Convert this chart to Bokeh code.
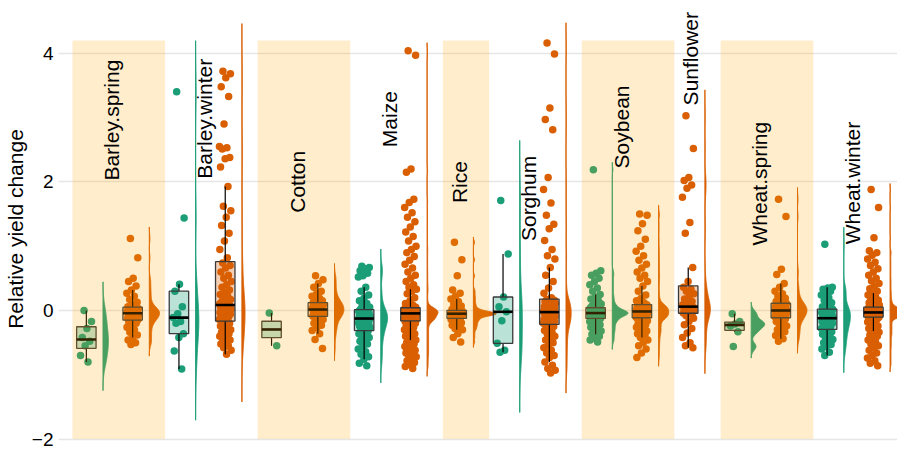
import numpy as np
from bokeh.plotting import figure
from bokeh.models import Range1d, FixedTicker
from bokeh.core.properties import value
from bokeh.embed import file_html
from bokeh.resources import INLINE

# ---------------- data ----------------
crops = ["Barley.spring", "Barley.winter", "Cotton", "Maize", "Rice",
         "Sorghum", "Soybean", "Sunflower", "Wheat.spring", "Wheat.winter"]
label_y = [2.02, 2.05, 1.52, 2.54, 1.67, 1.08, 2.21, 3.19, 1.01, 1.03]
y_ticks = [-2, 0, 2, 4]
y_tick_labels = ["\u22122", "0", "2", "4"]
y_title = "Relative yield change"

barley_spring_g = [0.0, -0.17, -0.28, -0.42, -0.48, -0.55, -0.7, -0.8]
barley_spring_o = [1.12, 0.82, 0.5, 0.45, 0.38, 0.32, 0.27, 0.22, 0.17, 0.13, 0.09, 0.06,
                   0.05, 0.04, 0.03, 0.02, 0.01, 0.0, -0.01, -0.015, -0.02, -0.03, -0.035, -0.04,
                   -0.045, -0.05, -0.06, -0.07, -0.08, -0.09, -0.1, -0.11, -0.12, -0.13, -0.14, -0.145,
                   -0.16, -0.18, -0.2, -0.23, -0.26, -0.3, -0.34, -0.38, -0.42, -0.46, -0.5, -0.53]
barley_winter_g = [3.40, 1.44, 0.41, 0.30, 0.06, -0.05, -0.11, -0.17, -0.20, -0.36, -0.42, -0.63, -0.91]
barley_winter_o = [3.72, 3.68, 3.62, 3.48, 3.33, 2.9, 2.55, 2.53, 2.51, 2.38, 2.36, 2.23,
                   1.93, 1.62, 1.55, 1.45, 1.32, 1.2, 1.08, 0.95, 0.82,
                   0.74, 0.7, 0.66, 0.6, 0.55, 0.5, 0.45, 0.4, 0.36, 0.32, 0.28, 0.25, 0.22, 0.19,
                   0.17, 0.15, 0.13, 0.12, 0.11, 0.1, 0.09,
                   0.08, 0.07, 0.06, 0.05, 0.04, 0.03, 0.02, 0.01, 0.0, -0.01, -0.02, -0.03, -0.04,
                   -0.05, -0.06, -0.08, -0.09, -0.1, -0.12, -0.14, -0.16,
                   -0.18, -0.2, -0.22, -0.24, -0.26, -0.28, -0.3, -0.32, -0.34, -0.36, -0.38, -0.4,
                   -0.42, -0.44, -0.46, -0.5, -0.52, -0.55, -0.58, -0.62, -0.68]
cotton_g = [-0.04, -0.55]
cotton_o = [0.54, 0.48, 0.42, 0.36, 0.3, 0.26, 0.22, 0.19, 0.17, 0.15, 0.13,
            0.12, 0.11, 0.1, 0.09, 0.08, 0.07, 0.06, 0.05, 0.04, 0.03, 0.02,
            0.01, 0.0, -0.01, -0.02, -0.03, -0.04, -0.05, -0.06, -0.07, -0.08, -0.09,
            -0.1, -0.12, -0.14, -0.17, -0.2, -0.23, -0.27, -0.31, -0.36, -0.45, -0.59]
maize_g = [0.69, 0.67, 0.65, 0.62, 0.58, 0.54, 0.52, 0.36, 0.3, 0.24, 0.19, 0.15, 0.11, 0.08, 0.05, 0.03, 0.02,
           0.01, 0.0, -0.01, -0.02, -0.03, -0.04, -0.05, -0.06, -0.07, -0.08, -0.09, -0.09, -0.1, -0.1,
           -0.11, -0.11, -0.12,
           -0.13, -0.14, -0.15, -0.16, -0.17, -0.18, -0.19, -0.2, -0.21, -0.22, -0.23, -0.24, -0.25,
           -0.26, -0.27, -0.29, -0.31,
           -0.32, -0.34, -0.36, -0.38, -0.4, -0.42, -0.45, -0.48, -0.52, -0.56, -0.6, -0.64, -0.68,
           -0.72, -0.76, -0.82, -0.86]
maize_o = [4.04, 3.97, 2.2, 2.15, 1.73, 1.68, 1.6, 1.52, 1.45, 1.38, 1.3, 1.22, 1.15, 1.08, 1.0, 0.95,
           0.9, 0.84, 0.78, 0.72, 0.66, 0.6, 0.55, 0.5, 0.45, 0.4, 0.36, 0.33, 0.3, 0.26, 0.2, 0.15,
           0.11, 0.08, 0.06, 0.05,
           0.04, 0.04, 0.04, 0.03, 0.03, 0.03, 0.02, 0.02, 0.02, 0.02, 0.01, 0.01, 0.01, 0.01, 0.0,
           0.0, 0.0, 0.0, -0.01, -0.01, -0.01, -0.01, -0.02, -0.02, -0.02, -0.02, -0.03, -0.03, -0.03,
           -0.03, -0.03, -0.04, -0.04, -0.04, -0.04, -0.04,
           -0.05, -0.05, -0.05, -0.06, -0.06, -0.06, -0.07, -0.07, -0.07, -0.08, -0.08, -0.08, -0.09,
           -0.09, -0.09, -0.1, -0.1, -0.1, -0.11, -0.11, -0.11, -0.12, -0.12, -0.12, -0.13, -0.13,
           -0.13, -0.14, -0.14, -0.14, -0.15, -0.15, -0.15, -0.16, -0.16, -0.16,
           -0.17, -0.18, -0.19, -0.2, -0.22, -0.24, -0.26, -0.28, -0.3, -0.32, -0.34, -0.36, -0.38,
           -0.4, -0.42, -0.44, -0.46, -0.48, -0.5, -0.52, -0.54, -0.56, -0.58, -0.6, -0.62, -0.64,
           -0.66, -0.68, -0.7, -0.72, -0.75, -0.78, -0.81, -0.84, -0.87, -0.9]
rice_o = [1.06, 0.79, 0.54, 0.32, 0.27, 0.22, 0.18, 0.14, 0.1, 0.07, 0.04, 0.02, 0.01,
          0.0, -0.01, -0.02, -0.025, -0.03, -0.035, -0.04, -0.04, -0.045, -0.045, -0.05, -0.05, -0.05,
          -0.05, -0.055, -0.055, -0.06, -0.06, -0.065, -0.07, -0.07, -0.075, -0.08, -0.09, -0.1, -0.12,
          -0.13, -0.14, -0.15, -0.17, -0.19, -0.21, -0.23, -0.25, -0.28, -0.3, -0.36, -0.42, -0.49]
sorghum_g = [1.71, 0.88, 0.21, 0.06, -0.02, -0.16, -0.51, -0.62, -0.65]
sorghum_o = [4.16, 3.99, 3.15, 2.97, 2.81, 2.07, 1.88, 1.67, 1.48, 1.34, 1.27, 1.09, 0.95, 0.85,
             0.8, 0.67, 0.55, 0.45, 0.35, 0.27, 0.2,
             0.17, 0.16, 0.15, 0.14, 0.13, 0.12, 0.11, 0.1, 0.09, 0.08, 0.07, 0.06, 0.05, 0.04,
             0.03, 0.02, 0.01, 0.01, 0.0, -0.01, -0.02,
             -0.03, -0.04, -0.05, -0.06, -0.07, -0.08, -0.09, -0.1, -0.11, -0.12, -0.13, -0.14,
             -0.15, -0.16, -0.17, -0.18, -0.18, -0.19, -0.2, -0.2, -0.21,
             -0.23, -0.25, -0.28, -0.31, -0.34, -0.37, -0.4, -0.43, -0.46, -0.5, -0.54, -0.58,
             -0.62, -0.66, -0.7, -0.73, -0.8, -0.85, -0.9, -0.93, -0.97]
soybean_g = [2.19, 0.62, 0.58, 0.55, 0.5, 0.45, 0.4, 0.35, 0.3, 0.25, 0.21, 0.18, 0.15, 0.12, 0.1,
             0.08, 0.07, 0.06, 0.05,
             0.04, 0.03, 0.02, 0.01, 0.01, 0.0, 0.0, -0.01, -0.01, -0.02, -0.02, -0.02, -0.03,
             -0.03, -0.03, -0.035, -0.035, -0.04, -0.04,
             -0.04, -0.045, -0.045, -0.05, -0.05, -0.05, -0.055, -0.06, -0.06, -0.065, -0.07, -0.07,
             -0.08, -0.08, -0.09, -0.1, -0.11, -0.12, -0.12,
             -0.13, -0.14, -0.15, -0.16, -0.17, -0.18, -0.2, -0.22, -0.24, -0.26, -0.28, -0.3,
             -0.32, -0.34, -0.37, -0.4, -0.43, -0.46, -0.49]
soybean_o = [1.5, 1.48, 1.35, 1.24, 1.11, 1.0, 0.92, 0.85, 0.78, 0.72, 0.66, 0.6, 0.55, 0.5, 0.45,
             0.38, 0.3, 0.24, 0.19, 0.15, 0.12, 0.1,
             0.09, 0.08, 0.08, 0.07, 0.07, 0.06, 0.06, 0.05, 0.05, 0.04, 0.04, 0.03, 0.03, 0.02,
             0.02, 0.01, 0.01, 0.0, 0.0, 0.0, -0.01, -0.01,
             -0.02, -0.02, -0.03, -0.03, -0.04, -0.04, -0.05, -0.05, -0.06, -0.06, -0.07, -0.07,
             -0.08, -0.08, -0.09, -0.09, -0.1, -0.1, -0.1, -0.11, -0.11, -0.11,
             -0.12, -0.13, -0.14, -0.16, -0.18, -0.2, -0.22, -0.24, -0.26, -0.28, -0.3, -0.32,
             -0.34, -0.36, -0.38, -0.42, -0.46, -0.5, -0.55, -0.6, -0.66, -0.73]
sunflower_o = [3.03, 2.52, 2.07, 2.02, 1.95, 1.9, 1.76, 1.37, 1.2, 0.67, 0.45,
               0.36, 0.33, 0.3, 0.26, 0.22, 0.18, 0.14, 0.11, 0.09, 0.08, 0.07,
               0.05, 0.04, 0.03, 0.02, 0.01, 0.0, -0.01, -0.02, -0.03, -0.035, -0.04,
               -0.05, -0.08, -0.12, -0.17, -0.22, -0.28, -0.35, -0.42, -0.5, -0.55, -0.58]
wheat_spring_g = [-0.05, -0.17, -0.21, -0.24, -0.33, -0.56]
wheat_spring_o = [1.73, 1.46, 0.64, 0.56, 0.42, 0.36, 0.3, 0.26, 0.22, 0.19, 0.16, 0.14, 0.13, 0.12,
                  0.11, 0.1, 0.09, 0.08, 0.07, 0.06, 0.05, 0.04, 0.04, 0.03, 0.02, 0.02, 0.01, 0.0,
                  0.0, -0.01, -0.02, -0.02, -0.03, -0.04, -0.05, -0.06, -0.07, -0.08, -0.09, -0.1,
                  -0.1, -0.11,
                  -0.12, -0.13, -0.15, -0.17, -0.19, -0.21, -0.24, -0.27, -0.3, -0.33, -0.36, -0.39,
                  -0.44, -0.48]
wheat_winter_g = [1.03, 0.36, 0.35, 0.33, 0.3, 0.27, 0.24, 0.2, 0.16, 0.12, 0.09, 0.06, 0.04, 0.03,
                  0.02, 0.01, 0.0, -0.01, -0.02, -0.03, -0.04, -0.05, -0.06, -0.07, -0.08, -0.09,
                  -0.1, -0.11,
                  -0.13, -0.14, -0.15, -0.16, -0.17, -0.18, -0.19, -0.2, -0.22, -0.24, -0.25, -0.26,
                  -0.28, -0.29,
                  -0.31, -0.33, -0.35, -0.37, -0.4, -0.42, -0.45, -0.48, -0.5, -0.53, -0.56, -0.6,
                  -0.65, -0.7]
wheat_winter_o = [1.88, 1.6, 1.13, 0.93, 0.9, 0.86, 0.8, 0.75, 0.7, 0.65, 0.6, 0.55, 0.5, 0.46, 0.42,
                  0.38, 0.34, 0.3, 0.27, 0.24, 0.21, 0.18, 0.16, 0.14, 0.12, 0.1, 0.09, 0.08, 0.07, 0.06,
                  0.05, 0.05, 0.04, 0.04, 0.04, 0.03, 0.03, 0.03, 0.02, 0.02, 0.02, 0.01, 0.01, 0.01,
                  0.0, 0.0, 0.0, 0.0, -0.01, -0.01, -0.01, -0.01, -0.02, -0.02, -0.02, -0.02, -0.03,
                  -0.03, -0.03, -0.03,
                  -0.03, -0.04, -0.04, -0.04, -0.04, -0.05, -0.05, -0.05, -0.05, -0.06, -0.06, -0.06,
                  -0.06, -0.07, -0.07, -0.07, -0.07, -0.08, -0.08, -0.08, -0.08, -0.09, -0.09, -0.09,
                  -0.09, -0.1, -0.1, -0.1, -0.1, -0.1,
                  -0.11, -0.12, -0.13, -0.14, -0.16, -0.18, -0.2, -0.22, -0.24, -0.26, -0.28, -0.3,
                  -0.32, -0.34, -0.36, -0.38, -0.4, -0.43, -0.46, -0.49, -0.52, -0.55, -0.58, -0.62,
                  -0.66, -0.7, -0.74, -0.78, -0.82, -0.86]

# estimated number of observations behind each group (the dense clouds hide most points)
n_obs = [8, 60, 13, 100, 2, 60, 90, 400, 250, 9, 100, 200, 250, 44, 6, 90, 80, 400]

# slot order: (crop, series, values)
groups = [
    ("Barley.spring", "g", barley_spring_g), ("Barley.spring", "o", barley_spring_o),
    ("Barley.winter", "g", barley_winter_g), ("Barley.winter", "o", barley_winter_o),
    ("Cotton", "g", cotton_g), ("Cotton", "o", cotton_o),
    ("Maize", "g", maize_g), ("Maize", "o", maize_o),
    ("Rice", "o", rice_o),
    ("Sorghum", "g", sorghum_g), ("Sorghum", "o", sorghum_o),
    ("Soybean", "g", soybean_g), ("Soybean", "o", soybean_o),
    ("Sunflower", "o", sunflower_o),
    ("Wheat.spring", "g", wheat_spring_g), ("Wheat.spring", "o", wheat_spring_o),
    ("Wheat.winter", "g", wheat_winter_g), ("Wheat.winter", "o", wheat_winter_o),
]

# ---------------- styles ----------------
COLORS = {"g": "#1B9E77", "o": "#D95F02"}
FONT = "Liberation Sans"
BOX_OFF = -0.2      # box centre offset inside a slot
BOX_W = 0.42
JIT = 0.13
DENS_OFF = 0.16     # density baseline offset inside a slot
DENS_SCALE = 0.092  # x data units per unit of probability density (equal-area violins)

p = figure(width=897, height=457, output_backend="svg", toolbar_location=None,
           x_range=Range1d(0.1985, 18.32), y_range=Range1d(-2.286, 4.821),
           x_axis_location=None, min_border_left=58, min_border_right=0,
           min_border_top=0, min_border_bottom=0)
p.outline_line_color = None
p.background_fill_color = "white"
p.xgrid.grid_line_color = None
p.ygrid.ticker = FixedTicker(ticks=y_ticks)
p.ygrid.grid_line_color = "#E6E6E6"
p.ygrid.grid_line_width = 1.3

ax = p.yaxis[0]
ax.ticker = FixedTicker(ticks=y_ticks)
ax.major_label_overrides = {t: l for t, l in zip(y_ticks, y_tick_labels)}
ax.axis_line_color = None
ax.major_tick_line_color = None
ax.minor_tick_line_color = None
ax.major_tick_out = 0
ax.major_tick_in = 0
ax.minor_tick_out = 0
ax.minor_tick_in = 0
ax.major_label_standoff = 5
ax.major_label_text_font = FONT
ax.major_label_text_font_size = "19px"
ax.major_label_text_color = "black"
ax.axis_label = y_title
ax.axis_label_text_font = FONT
ax.axis_label_text_font_size = "21px"
ax.axis_label_text_font_style = "normal"
ax.axis_label_text_color = "black"
ax.axis_label_standoff = 2


def nrd0(v, n):
    v = np.asarray(v, float)
    sd = np.std(v, ddof=1)
    q1, q3 = np.percentile(v, [25, 75])
    lo = min(sd, (q3 - q1) / 1.34)
    if lo <= 0:
        lo = sd if sd > 0 else 1.0
    return 0.9 * lo * n ** -0.2


golden = 0.6180339887
for i, (crop, s, vals) in enumerate(groups):
    slot = i + 1
    col = COLORS[s]
    v = np.asarray(vals, float)
    # density (half violin), equal area for every group
    if len(v) >= 3:
        bw = nrd0(v, n_obs[i])
        grid = np.linspace(v.min() - 3 * bw, v.max() + 3 * bw, 600)
        pdf = np.exp(-0.5 * ((grid[:, None] - v[None, :]) / bw) ** 2).sum(1) / (len(v) * bw * np.sqrt(2 * np.pi))
        base = slot + DENS_OFF
        xs = np.concatenate([base + DENS_SCALE * pdf, [base, base]])
        ys = np.concatenate([grid, [grid[-1], grid[0]]])
        p.patch(xs, ys, fill_color=col, line_color=col, line_width=1)
    # jittered points
    cx = slot + BOX_OFF
    k = np.arange(len(v))
    jx = cx + ((k * golden + 0.31) % 1.0 - 0.5) * 2 * JIT
    p.scatter(jx, v, size=7.5, fill_color=col, line_color=None)
    # box plot
    q1, med, q3 = np.percentile(v, [25, 50, 75])
    iqr = q3 - q1
    up = v[v <= q3 + 1.5 * iqr].max()
    lo = v[v >= q1 - 1.5 * iqr].min()
    p.segment(x0=[cx, cx], y0=[q3, q1], x1=[cx, cx], y1=[up, lo], line_color="black", line_width=1.2)
    p.quad(left=[cx - BOX_W / 2], right=[cx + BOX_W / 2], bottom=[q1], top=[q3],
           fill_color=col, fill_alpha=0.3, line_color="#3a3a3a", line_width=1.3)
    p.segment(x0=[cx - BOX_W / 2], y0=[med], x1=[cx + BOX_W / 2], y1=[med],
              line_color="black", line_width=2.6)

# shaded bands for every other crop (drawn over the marks)
slots_of = {}
for i, (crop, s, vals) in enumerate(groups):
    slots_of.setdefault(crop, []).append(i + 1)
band_l, band_r = [], []
for j, crop in enumerate(crops):
    if j % 2 == 0:
        band_l.append(min(slots_of[crop]) - 0.5)
        band_r.append(max(slots_of[crop]) + 0.5)
p.quad(left=band_l, right=band_r, bottom=y_ticks[0], top=4.2,
       fill_color="orange", fill_alpha=0.2, line_color=None)

# crop labels
lab_x = [np.mean(slots_of[c]) - 0.15 for c in crops]
p.text(x=lab_x, y=label_y, text=crops, angle=np.pi / 2, text_align="left",
       text_baseline="middle", text_font=value(FONT), text_font_size="21px", text_color="black")

open("out.html", "w").write(file_html(p, INLINE))
